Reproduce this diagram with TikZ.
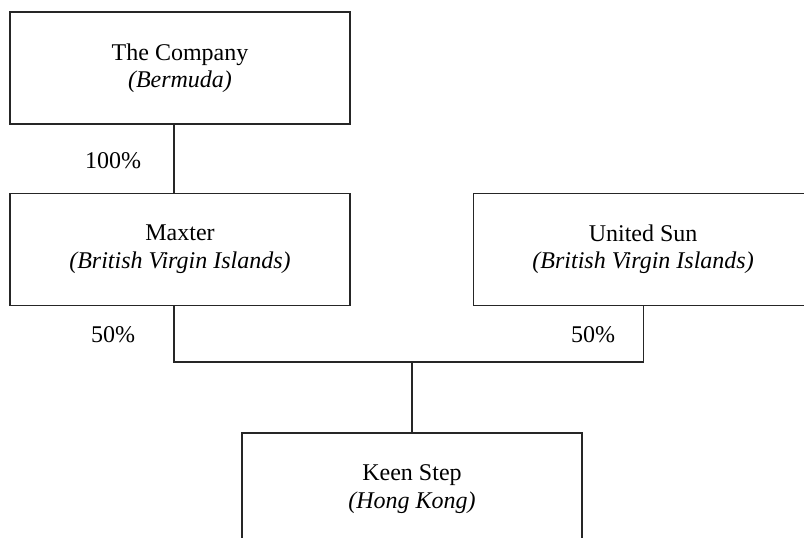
\documentclass[tikz,border=0pt]{standalone}
\usepackage{fontspec}
\setmainfont{Liberation Serif}
\usetikzlibrary{positioning}

\tikzset{
  entity/.style={draw=black!85, line width=1.1pt, minimum width=340pt, minimum height=112pt,
    inner sep=0pt, align=center, font=\fontsize{24}{27.5}\selectfont},
  share/.style={anchor=base, font=\fontsize{24}{27.5}\selectfont},
  link/.style={draw=black!85, line width=1.1pt}
}

\begin{document}
\begin{tikzpicture}[x=1pt,y=-1pt,node distance=68pt]
	\useasboundingbox (0,0) rectangle (804,538);
	\clip (0,0) rectangle (804,538);
	\node[entity]                           (company) at (180,68) {The Company\\\textit{(Bermuda)}};
	\node[entity, below=of company]         (maxter)  {Maxter\\\textit{(British Virgin Islands)}};
	\node[entity, right=122pt of maxter]    (usun)    {United Sun\\\textit{(British Virgin Islands)}};
	\node[entity]                           (keen) at (412,489) {Keen Step\\\textit{(Hong Kong)}};
	\coordinate (bar) at (0,362);
	\node[share] (own1) at (113,168) {100\%};
	\node[share] (own2) at (113,342) {50\%};
	\node[share] (own3) at (593,342) {50\%};
	\draw[link] ([xshift=-6pt]company.south) -- ([xshift=-6pt]maxter.north);
	\draw[link] ([xshift=-6pt]maxter.south) |- (bar -| usun.south) -- (usun.south);
	\draw[link] (keen.north) -- (keen.north |- bar);
\end{tikzpicture}
\end{document}
